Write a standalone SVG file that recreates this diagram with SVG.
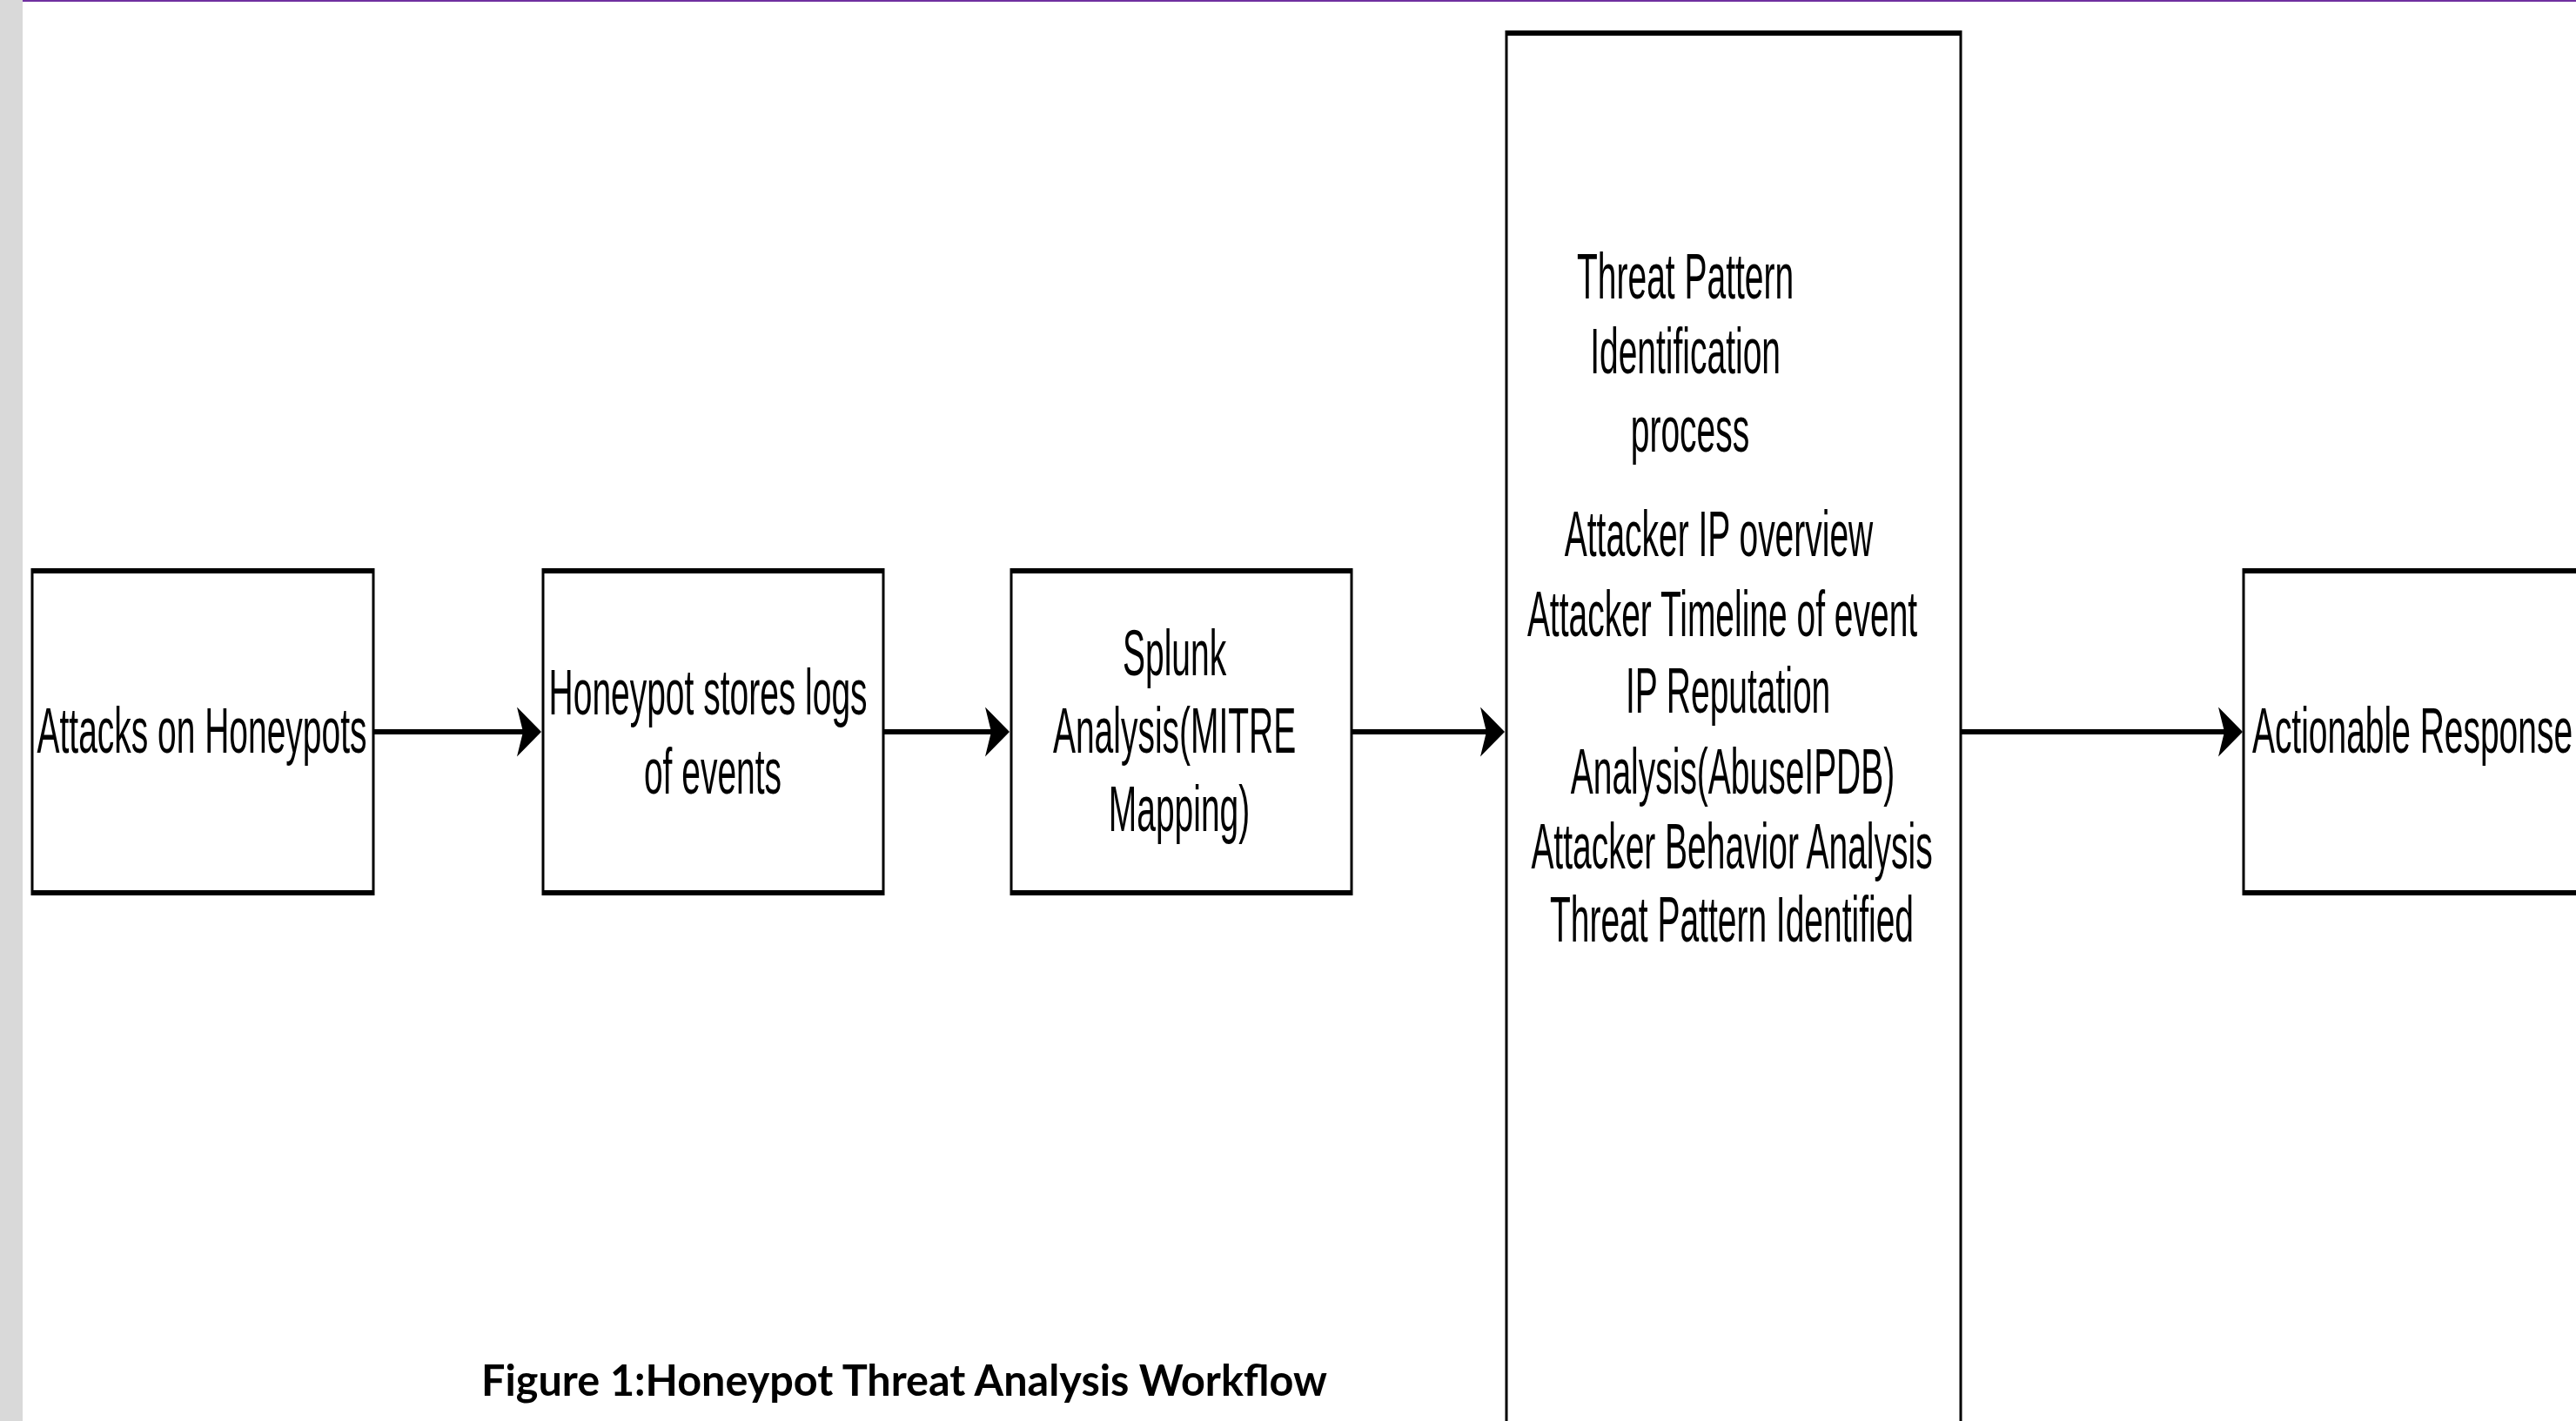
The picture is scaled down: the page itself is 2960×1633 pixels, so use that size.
<svg xmlns="http://www.w3.org/2000/svg" width="2960" height="1633" viewBox="0 0 2960 1633">
  <style>
    .box { fill: #ffffff; stroke: #000000; stroke-width: 6; }
    .lbl { font-family: "Liberation Sans", Arial, sans-serif; font-size: 74px; fill: #000000; text-anchor: middle; }
    .edge { stroke: #000000; stroke-width: 6; fill: none; }
    .cap { font-family: Lato, "Open Sans", sans-serif; font-weight: bold; font-size: 50px; fill: #000000; }
  </style>
  <defs>
    <marker id="arrow" markerUnits="userSpaceOnUse" markerWidth="28" markerHeight="57" refX="7" refY="28.5" orient="auto" viewBox="0 0 28 57">
      <path d="M0,0 L28,28.5 L0,57 L7,28.5 Z" fill="#000000"/>
    </marker>
  </defs>
  <rect x="0" y="0" width="2960" height="1633" fill="#ffffff"/>
  <rect x="0" y="0" width="26" height="1633" fill="#d9d9d9"/>
  <rect x="26" y="0" width="2934" height="2" fill="#7030a0"/>

  <g id="connectors">
    <line class="edge" x1="429" y1="841" x2="601" y2="841" marker-end="url(#arrow)"/>
    <line class="edge" x1="1015" y1="841" x2="1139" y2="841" marker-end="url(#arrow)"/>
    <line class="edge" x1="1553" y1="841" x2="1708" y2="841" marker-end="url(#arrow)"/>
    <line class="edge" x1="2253" y1="841" x2="2556" y2="841" marker-end="url(#arrow)"/>
  </g>

  <g id="node-attacks">
    <rect class="box" x="0" y="656" width="784" height="370" transform="translate(37,0) scale(0.5,1)"/>
    <text class="lbl" x="0" y="865" transform="translate(232,0) scale(0.5266,1)">Attacks on Honeypots</text>
  </g>

  <g id="node-logs">
    <rect class="box" x="0" y="656" width="782" height="370" transform="translate(624,0) scale(0.5,1)"/>
    <text class="lbl" transform="translate(819,0) scale(0.5266,1)">
      <tspan x="0" y="821">Honeypot stores logs</tspan>
      <tspan x="0" y="912">of events</tspan>
    </text>
  </g>

  <g id="node-splunk">
    <rect class="box" x="0" y="656" width="782" height="370" transform="translate(1162,0) scale(0.5,1)"/>
    <text class="lbl" transform="translate(1355,0) scale(0.5266,1)">
      <tspan x="0" y="776">Splunk</tspan>
      <tspan x="0" y="865">Analysis(MITRE</tspan>
      <tspan x="0" y="955">Mapping)</tspan>
    </text>
  </g>

  <g id="node-threat">
    <rect class="box" x="0" y="38" width="1044" height="1700" transform="translate(1731,0) scale(0.5,1)"/>
    <text class="lbl" transform="translate(1942,0) scale(0.5266,1)">
      <tspan x="0" y="343">Threat Pattern</tspan>
      <tspan x="0" y="429">Identification</tspan>
      <tspan x="0" y="519">process</tspan>
    </text>
    <text class="lbl" x="0" y="639" transform="translate(1975,0) scale(0.5266,1)">Attacker IP overview</text>
    <text class="lbl" x="0" y="731" transform="translate(1979,0) scale(0.5266,1)">Attacker Timeline of event</text>
    <text class="lbl" transform="translate(1991,0) scale(0.5266,1)">
      <tspan x="0" y="819">IP Reputation</tspan>
      <tspan x="0" y="912">Analysis(AbuseIPDB)</tspan>
    </text>
    <text class="lbl" x="0" y="998" transform="translate(1990,0) scale(0.5266,1)">Attacker Behavior Analysis</text>
    <text class="lbl" x="0" y="1082" transform="translate(1990,0) scale(0.5266,1)">Threat Pattern Identified</text>
  </g>

  <g id="node-response">
    <rect class="box" x="0" y="656" width="782" height="370" transform="translate(2578,0) scale(0.5,1)"/>
    <text class="lbl" x="0" y="865" transform="translate(2772,0) scale(0.5266,1)">Actionable Response</text>
  </g>

  <g id="caption">
    <text class="cap" x="553" y="1604" textLength="972" lengthAdjust="spacingAndGlyphs">Figure 1:Honeypot Threat Analysis Workflow</text>
  </g>
</svg>
